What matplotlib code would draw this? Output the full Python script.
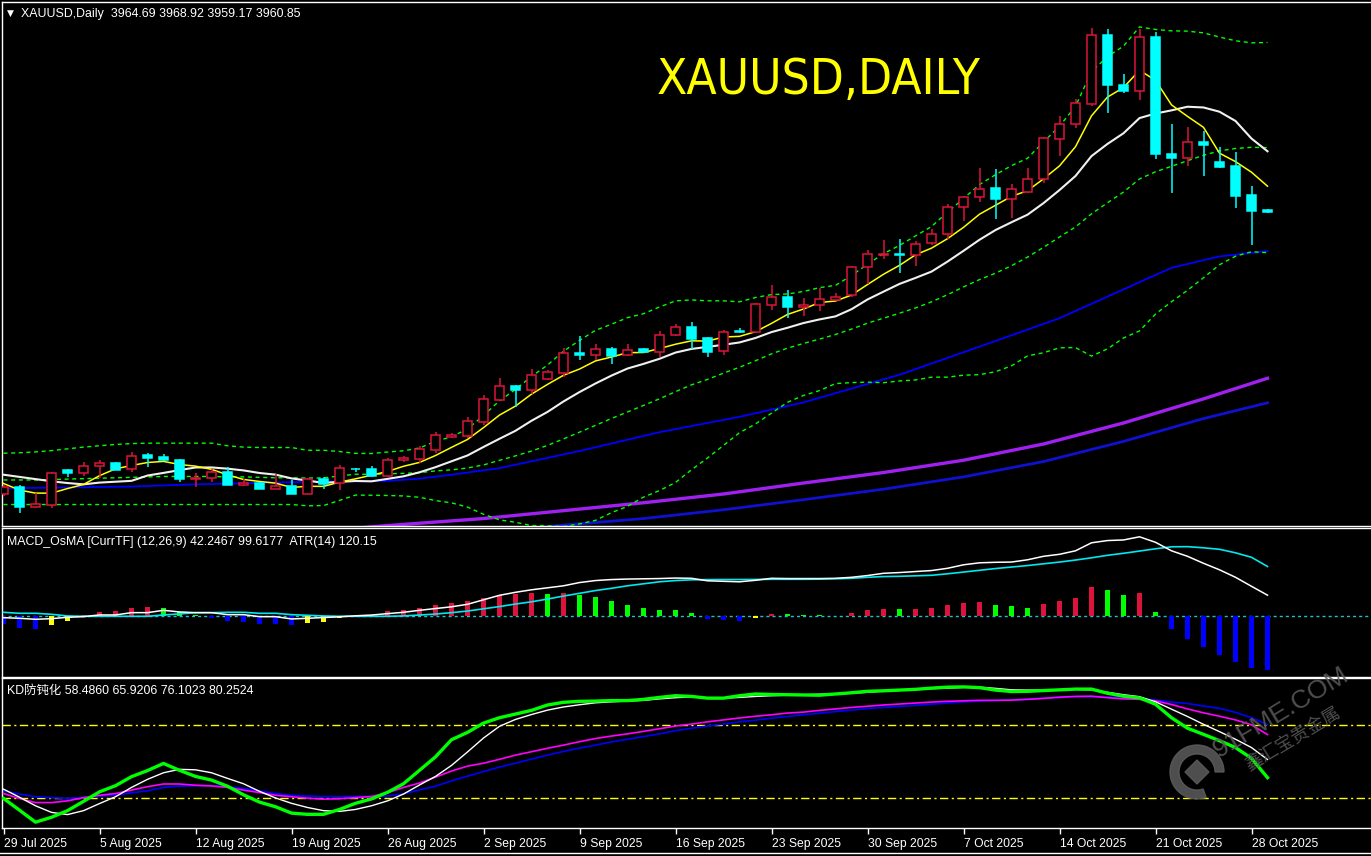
import numpy as np
import pandas as pd
import matplotlib
matplotlib.use("Agg")
import matplotlib.pyplot as plt
from matplotlib.patches import Rectangle, Wedge, Polygon
from matplotlib import font_manager as fm

W, H = 1371, 856

# ---------------- data ----------------
date_labels = ["29 Jul 2025", "5 Aug 2025", "12 Aug 2025", "19 Aug 2025", "26 Aug 2025",
               "2 Sep 2025", "9 Sep 2025", "16 Sep 2025", "23 Sep 2025", "30 Sep 2025",
               "7 Oct 2025", "14 Oct 2025", "21 Oct 2025", "28 Oct 2025"]
label_bars = [0, 6, 12, 18, 24, 30, 36, 42, 48, 54, 60, 66, 72, 78]

opens = [3317, 3334, 3289, 3292, 3373, 3367, 3381, 3389, 3374, 3407,
         3402, 3395, 3352, 3355, 3368, 3339, 3344, 3330, 3336, 3319,
         3352, 3342, 3376, 3374, 3358, 3395, 3398, 3419, 3448, 3451,
         3482, 3533, 3564, 3556, 3581, 3595, 3640, 3635, 3649, 3634,
         3649, 3641, 3680, 3699, 3674, 3644, 3690, 3688, 3750, 3767,
         3745, 3748, 3760, 3771, 3835, 3864, 3866, 3864, 3890, 3910,
         3972, 3995, 4016, 3990, 4006, 4036, 4128, 4161, 4208, 4365,
         4251, 4237, 4360, 4094, 4085, 4121, 4075, 4066, 4000, 3964.69]
highs = [3338, 3338, 3320, 3368, 3375, 3391, 3395, 3391, 3414, 3411,
         3409, 3397, 3367, 3375, 3379, 3353, 3345, 3364, 3350, 3355,
         3356, 3384, 3377, 3382, 3400, 3405, 3428, 3460, 3457, 3494,
         3544, 3583, 3567, 3603, 3601, 3650, 3678, 3660, 3653, 3660,
         3651, 3690, 3706, 3710, 3677, 3691, 3697, 3754, 3795, 3783,
         3764, 3789, 3777, 3838, 3875, 3897, 3900, 3895, 3923, 3980,
         3998, 4062, 4059, 4025, 4062, 4132, 4180, 4219, 4381, 4379,
         4276, 4379, 4372, 4162, 4155, 4146, 4110, 4098, 4021, 3968.92]
lows = [3313, 3275, 3288, 3286, 3357, 3359, 3354, 3372, 3369, 3380,
        3393, 3345, 3335, 3346, 3338, 3337, 3329, 3329, 3317, 3318,
        3330, 3326, 3369, 3357, 3356, 3392, 3388, 3411, 3447, 3445,
        3475, 3529, 3517, 3546, 3578, 3584, 3624, 3624, 3615, 3633,
        3639, 3630, 3678, 3649, 3631, 3636, 3686, 3686, 3738, 3720,
        3724, 3736, 3759, 3767, 3797, 3855, 3821, 3839, 3885, 3900,
        3941, 3985, 3946, 3948, 4005, 4027, 4090, 4154, 4203, 4186,
        4233, 4217, 4083, 4005, 4067, 4044, 4062, 3971, 3886, 3959.17]
closes = [3335, 3288, 3295, 3367, 3367, 3382, 3388, 3373, 3405, 3401,
          3395, 3352, 3355, 3368, 3339, 3342, 3329, 3336, 3319, 3352,
          3341, 3377, 3374, 3360, 3395, 3400, 3421, 3453, 3453, 3485,
          3535, 3564, 3556, 3589, 3596, 3639, 3635, 3649, 3633, 3646,
          3641, 3680, 3698, 3672, 3643, 3687, 3688, 3751, 3767, 3745,
          3749, 3762, 3768, 3835, 3865, 3866, 3864, 3888, 3911, 3973,
          3995, 4014, 3990, 4013, 4037, 4130, 4162, 4209, 4365, 4251,
          4238, 4360, 4094, 4085, 4120, 4113, 4065, 3998, 3964, 3960.85]

# moving-average values at the left edge (before the windows are complete)
sma5_head = [3342, 3327, 3320, 3320]
sma10_head = [3362, 3357, 3352, 3347, 3343, 3340, 3344, 3346, 3348]
bb_mid_head = [3350, 3350, 3350, 3351, 3352, 3353, 3354, 3355, 3356, 3357,
               3358, 3358, 3358, 3358, 3357, 3357, 3356, 3355, 3355]
bb_up_head = [3411, 3412, 3414, 3417, 3421, 3425, 3428, 3431, 3433, 3434,
              3434, 3434, 3434, 3434, 3428, 3425, 3424, 3424, 3424]
bb_lo_head = [3294, 3294, 3294, 3294, 3294, 3294, 3294, 3294, 3294, 3294,
              3294, 3294, 3294, 3294, 3294, 3294, 3294, 3294, 3294]

# long moving averages (bar index, price)
ma_blue_bar = [0, 8, 12, 18, 24, 26, 28, 31, 36, 41, 46, 50, 56, 62, 66, 73, 76, 79]
ma_blue_val = [3331, 3335, 3340, 3345, 3348, 3353, 3362, 3377, 3416, 3459, 3494, 3527,
               3590, 3667, 3719, 3834, 3860, 3872]
ma_purple_bar = [22, 24, 30, 35, 40, 45, 50, 55, 60, 65, 70, 75, 79]
ma_purple_val = [3240, 3246, 3262, 3280, 3298, 3318, 3343, 3367, 3395, 3432, 3480, 3535, 3582]
ma_navy_bar = [33, 35, 40, 45, 50, 55, 60, 65, 70, 75, 79]
ma_navy_val = [3240, 3247, 3262, 3282, 3305, 3329, 3357, 3392, 3438, 3490, 3526]

macd_hist = [-14.8, -22.7, -25.3, -16.7, -9.3, 2.7, 8.7, 10.7, 16.7, 18.7,
             16.7, 9.3, 2.7, -2.7, -9.3, -10.7, -14.7, -14.9, -17.3, -13.3,
             -11.3, -2.7, 1.3, 2.7, 10.7, 12.7, 16.7, 22.7, 26.7, 30.7,
             36.7, 43.3, 44.7, 46.7, 44.7, 46.7, 42.7, 38.7, 30.7, 22.7,
             16.7, 12.7, 12.5, 6.7, -5.3, -7.3, -10.0, -3.3, 4.7, 4.5,
             2.7, 2.5, 1.3, 6.7, 12.7, 14.7, 14.5, 14.8, 16.7, 22.7,
             26.7, 28.7, 22.7, 20.7, 16.7, 24.7, 30.7, 36.7, 58.7, 52.7,
             42.7, 46.7, 8.7, -25.3, -45.3, -61.3, -77.3, -90.7, -102.7, -106.7]
macd_main = [-2.7, -4, -6, -4.7, -2, -0.7, 2.7, 2.7, 7.3, 7.3,
             12, 8.7, 7.3, 7.3, 3.3, 3.3, -0.7, -0.7, -5.3, -4,
             -2.5, -1, 1, 2.5, 5.3, 8, 12, 15.5, 19, 24,
             33, 42, 48, 53, 57, 61, 67.5, 71.5, 73.5, 74.5,
             75, 75.5, 76.5, 76, 71, 70, 69, 72, 76, 75.5,
             75.5, 75.5, 76, 78, 81.5, 86, 87.5, 89.5, 91.5, 96,
             103, 107, 108, 108.5, 113, 120, 124, 131, 147, 151.5,
             152.7, 159, 148, 131, 120, 106, 93, 78, 60, 42.2467]
macd_signal = [8, 6, 6, 4, 0.7, 0, 0, 0, 0, 0,
               2.7, 4.7, 7.3, 7.3, 8, 8, 6, 6, 3.3, 2,
               0.7, 0, 0, 0, 0, 0.7, 2.5, 4.5, 7.3, 10.5,
               15, 19.5, 24.5, 29, 34.5, 40.5, 46, 51.5, 56, 61,
               65, 69, 71.5, 73, 73.3, 73.5, 73.5, 73.7, 74, 74,
               74, 74.3, 75, 76, 78, 79.5, 80, 81, 82, 85,
               88.5, 92, 95.5, 98.5, 101.5, 105, 108.5, 112.5, 117, 122,
               126, 130.5, 135, 139, 139.3, 137, 134, 127, 118, 99.6177]

kd_green = [50.0, 45.2, 40.3, 42.3, 45, 48.8, 52.7, 55.2, 58.9, 61.4,
            64.3, 61.5, 59, 57.5, 55, 51.5, 48.5, 46.6, 44, 43.5,
            43.5, 45.5, 48, 49.8, 52.5, 56, 61.5, 67, 74, 77,
            80.8, 83, 84.5, 86, 88.2, 89.3, 89.7, 89.8, 90, 90,
            90.5, 91.3, 92, 91.7, 91, 91, 92, 92.7, 92.5, 92.4,
            92.3, 92.2, 92.7, 93.2, 93.8, 94, 94.3, 94.6, 95.1, 95.5,
            95.6, 95.3, 94.3, 93.7, 93.8, 94.1, 94.4, 94.7, 94.7, 93,
            91.8, 91.1, 88.5, 83, 78.7, 76.2, 73.6, 70.8, 66.4, 58.486]
kd_white = [53.8, 50.5, 47, 44.3, 43.4, 45, 47.9, 50.7, 54.5, 57.8,
            60.5, 61.9, 61.7, 60.5, 58.2, 56, 52.9, 50.2, 48, 46.3,
            45, 44.7, 45.5, 47, 49, 51.8, 55.5, 59, 63.5, 69,
            74.7, 79.5, 82.3, 84.3, 86.1, 87.4, 88.3, 89.1, 89.5, 89.8,
            90.1, 90.7, 91.2, 91.5, 91.1, 91, 91.3, 91.7, 92, 92.2,
            92.4, 92.6, 92.8, 93, 93.4, 93.9, 94.2, 94.6, 94.9, 95.1,
            95.4, 95.5, 95, 94.4, 94.3, 94.3, 94.4, 94.6, 94.4, 93.4,
            92.4, 91.6, 89.5, 86.5, 83.5, 80.3, 77.3, 74.2, 70.8, 65.9206]
kd_magenta = [52, 50, 48.3, 48.3, 49, 50.3, 51.3, 52, 53.4, 54.8,
              55.9, 55.9, 55.4, 55.1, 54.5, 53.4, 52.4, 51.3, 50.7, 50.1,
              49.7, 49.9, 50.3, 50.8, 52.3, 54.5, 56.3, 58.7, 61.2, 63.2,
              64.4, 66, 67.7, 69.1, 70.5, 71.8, 73.2, 74.5, 75.5, 76.4,
              77.4, 78.5, 79.6, 80.4, 81.3, 82.1, 82.9, 83.6, 84.2, 84.9,
              85.3, 86, 86.6, 87.2, 87.7, 88.2, 88.6, 89, 89.4, 89.7,
              89.9, 90.1, 90.1, 90.2, 90.5, 90.9, 91.4, 91.7, 91.8, 91.2,
              90.7, 90.5, 89.9, 88.4, 86.6, 85, 83.6, 82.1, 80.1, 76.1023]
kd_blue = [53.1, 51.8, 50.7, 50.3, 50, 50.4, 50.9, 51.3, 52.3, 53.1,
           54.5, 55, 55.2, 55.2, 54.8, 54.1, 53.1, 52, 51.3, 51,
           50.8, 50.8, 50.8, 50.8, 51, 51.9, 53.5, 55, 57.2, 59.1,
           61, 62.8, 64.4, 66.1, 67.7, 69.2, 70.6, 71.8, 73.1, 74.2,
           75.3, 76.4, 77.7, 78.7, 79.6, 80.4, 81.3, 82, 82.8, 83.5,
           84.2, 84.8, 85.5, 86.1, 86.7, 87.2, 87.6, 88, 88.5, 89,
           89.5, 89.8, 90.1, 90.3, 90.6, 91, 91.3, 91.6, 91.6, 91.4,
           91.2, 90.9, 90.2, 89.4, 88.8, 87.8, 86.8, 85.2, 83, 80.2524]
kd_levels = [80, 50]

# ---------------- derived indicators ----------------
n = len(closes)
bars = np.arange(n)
cs = pd.Series(closes, dtype=float)
sma5 = cs.rolling(5).mean().to_numpy()
sma5[:len(sma5_head)] = sma5_head
sma10 = cs.rolling(10).mean().to_numpy()
sma10[:len(sma10_head)] = sma10_head
bb_mid = cs.rolling(20).mean().to_numpy()
bb_sd = cs.rolling(20).std(ddof=0).to_numpy()
bb_up = bb_mid + 2 * bb_sd
bb_lo = bb_mid - 2 * bb_sd
bb_mid[:19] = bb_mid_head
bb_up[:19] = bb_up_head
bb_lo[:19] = bb_lo_head

# ---------------- fonts ----------------
avail = {f.name for f in fm.fontManager.ttflist}
ui_font = "Liberation Sans" if "Liberation Sans" in avail else "DejaVu Sans"
cjk_list = [ui_font, "Noto Sans CJK SC", "DejaVu Sans"]


def narrow_font():
    cands = []
    for f in fm.fontManager.ttflist:
        fn = f.fname.lower().replace(" ", "").replace("-", "").replace("_", "")
        if "bold" in fn or "oblique" in fn or "italic" in fn:
            continue
        if "liberationsansnarrow" in fn:
            cands.append((0, f.fname))
        elif "condensed" in fn and "sans" in fn and "mono" not in fn:
            cands.append((1, f.fname))
    if cands:
        cands.sort()
        return fm.FontProperties(fname=cands[0][1])
    return fm.FontProperties(family=ui_font)


title_prop = narrow_font()

# ---------------- figure ----------------
fig = plt.figure(figsize=(W / 100, H / 100), dpi=100, facecolor="black")


def rect(x0, y0, x1, y1):
    return [x0 / W, 1 - y1 / H, (x1 - x0) / W, (y1 - y0) / H]


XL = ((2.3 - 3.5) / 16, (W - 3.5) / 16)


def style(ax):
    ax.set_facecolor("black")
    for s in ["left", "top", "bottom"]:
        ax.spines[s].set_color("white")
        ax.spines[s].set_linewidth(1.0)
    ax.spines["right"].set_visible(False)
    ax.set_xlim(*XL)
    ax.set_yticks([])
    ax.set_xticks([])


# ---- main price panel ----
ax1 = fig.add_axes(rect(2.3, 2.3, W, 526))
style(ax1)
ax1.set_ylim(3245.0, 4439.6)

dash = (0, (2.9, 2.6))
ax1.plot(ma_purple_bar, ma_purple_val, color="#A020F0", lw=2.4, zorder=2)
ax1.plot(ma_navy_bar, ma_navy_val, color="#1010D0", lw=2.0, zorder=2)
ax1.plot(ma_blue_bar, ma_blue_val, color="#0000FF", lw=1.3, zorder=2)
ax1.plot(bars, bb_up, color="#00FF00", lw=1.0, ls=dash, zorder=3)
ax1.plot(bars, bb_mid, color="#00FF00", lw=1.0, ls=dash, zorder=3)
ax1.plot(bars, bb_lo, color="#00FF00", lw=1.0, ls=dash, zorder=3)
ax1.plot(bars, sma10, color="#F0F0F0", lw=1.5, zorder=3)
ax1.plot(bars, sma5, color="#FFFF00", lw=1.1, zorder=3)

for i in range(n):
    o, hi, lo, c = opens[i], highs[i], lows[i], closes[i]
    bull = c >= o
    col = "#DC143C" if bull else "#00FFFF"
    top, bot = max(o, c), min(o, c)
    ax1.vlines(i, lo, hi, color=col, lw=1.1, zorder=4)
    ax1.add_patch(Rectangle((i - 0.31, bot), 0.62, max(top - bot, 0.3),
                            facecolor=("black" if bull else col), edgecolor=col,
                            lw=1.1, zorder=5))

# ---- MACD panel ----
ax2 = fig.add_axes(rect(2.3, 528, W, 676.5))
style(ax2)
ax2.set_ylim(-120.4, 176.6)
hist = np.array(macd_hist)
prev = np.concatenate([[0.0], hist[:-1]])
bar_cols = []
for v, p in zip(hist, prev):
    if v >= 0:
        bar_cols.append("#DC143C" if v >= p else "#00FF00")
    else:
        bar_cols.append("#0000FF" if v < p else "#FFFF00")
ax2.bar(bars, hist, width=0.31, color=bar_cols, zorder=2)
ax2.axhline(0, color="#20C0C8", lw=1.0, ls=(0, (2.2, 2.2)), zorder=1)
ax2.plot(bars, macd_signal, color="#00E8F0", lw=1.2, zorder=3)
ax2.plot(bars, macd_main, color="#FFFFFF", lw=1.1, zorder=3)

# ---- KD panel ----
ax3 = fig.add_axes(rect(2.3, 677.7, W, 828.3))
style(ax3)
ax3.set_ylim(37.79, 99.36)
for lv in kd_levels:
    ax3.axhline(lv, color="#FFFF00", lw=1.0, ls=(0, (6, 2.5, 1.5, 2.5)), zorder=1)
ax3.plot(bars, kd_blue, color="#0000FF", lw=1.2, zorder=2)
ax3.plot(bars, kd_magenta, color="#FF00FF", lw=1.2, zorder=3)
ax3.plot(bars, kd_white, color="#FFFFFF", lw=1.0, zorder=4)
ax3.plot(bars, kd_green, color="#00FF00", lw=2.4, zorder=5)

ax3.set_xticks(label_bars)
ax3.set_xticklabels(date_labels, ha="left", fontsize=8.7, family=ui_font, color="white")
ax3.tick_params(axis="x", length=4, width=1, color="white", direction="out", pad=3)

# ---- texts ----
def ftext(x, y, s, **kw):
    return fig.text(x / W, 1 - y / H, s, **kw)


ftext(7.3, 15.5, "\u25BC", fontsize=6.5, color="white", family="DejaVu Sans", va="baseline")
ftext(20.7, 16.7, "XAUUSD,Daily  3964.69 3968.92 3959.17 3960.85", fontsize=8.9,
      color="white", family=ui_font, va="baseline")
ftext(7.3, 544.5, "MACD_OsMA [CurrTF] (12,26,9) 42.2467 99.6177  ATR(14) 120.15",
      fontsize=8.9, color="white", family=ui_font, va="baseline")
ftext(7.3, 694.3, "KD防钝化 58.4860 65.9206 76.1023 80.2524", fontsize=8.9,
      color="white", family=cjk_list, va="baseline")

title = ftext(657, 94, "XAUUSD,DAILY", fontproperties=title_prop, color="#FFFF00",
              va="baseline")
title.set_fontsize(39)
renderer = fig.canvas.get_renderer()
tw = title.get_window_extent(renderer).width
title.set_fontsize(min(39, 39 * 323.0 / tw))

# bottom frame line
fig.add_artist(plt.Line2D([0, 1], [1 - 853 / H, 1 - 853 / H], color="white", lw=1.0,
                          transform=fig.transFigure))

# ---- watermark ----
axw = fig.add_axes([0, 0, 1, 1], facecolor="none")
axw.set_xlim(0, W)
axw.set_ylim(H, 0)
axw.axis("off")
wm = "#5c5c5c"
axw.add_patch(Wedge((1197, 772), 27, 70, 360, width=9, color=wm, alpha=0.85, zorder=10))
axw.add_patch(Polygon([(1197, 760), (1209, 772), (1197, 784), (1185, 772)], closed=True,
                      color=wm, alpha=0.85, zorder=10))
axw.text(1281, 712, "91FME.COM", rotation=31, fontsize=19, color=wm, alpha=0.85,
         ha="center", va="center", family=ui_font, zorder=10)
axw.text(1293, 740, "鑫汇宝贵金属", rotation=31, fontsize=13, color=wm, alpha=0.85,
         ha="center", va="center", family=["Noto Sans CJK SC", "DejaVu Sans"], zorder=10)

fig.savefig("out.png", dpi=100, facecolor="black")
